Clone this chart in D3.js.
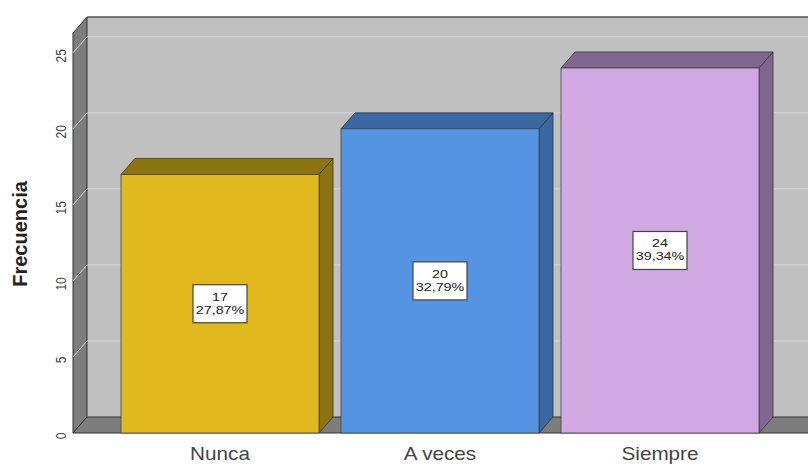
<!DOCTYPE html>
<html>
<head>
<meta charset="utf-8">
<script src="https://cdn.jsdelivr.net/npm/d3@7"></script>
<style>
  body { margin: 0; background: #fff; }
  svg { display: block; font-family: "Liberation Sans", Arial, sans-serif; }
</style>
</head>
<body>
<svg id="chart" width="808" height="464"></svg>
<script>
// chart data
const categories = ["Nunca", "A veces", "Siempre"];
const counts = [17, 20, 24];
const percents = ["27,87%", "32,79%", "39,34%"];
const yTicks = [0, 5, 10, 15, 20, 25];

const frontColors = ["#E1B91E", "#5594E2", "#D1A9E3"];
const sideColors = ["#8C7511", "#3B67A2", "#806790"];

const svg = d3.select("#chart");

// 3d depth offset
const dx = 14, dy = -16;

let x = d3.scaleBand().domain(categories).range([110, 770]).paddingInner(0.1).paddingOuter(0.05);
let y = d3.scaleLinear().domain([0, 26.3]).range([433, 33]);

const left = 73, right = 830;
const y0 = y(0), yTop = y(26.3);

// back wall
svg.append("rect")
    .attr("x", left + dx).attr("y", yTop + dy)
    .attr("width", right - left).attr("height", y0 - yTop)
    .attr("fill", "#c0c0c0");

// left wall
svg.append("path")
    .attr("d", `M${left},${y0} L${left},${yTop} L${left + dx},${yTop + dy} L${left + dx},${y0 + dy} Z`)
    .attr("fill", "#7d7d7d").attr("stroke", "#333").attr("stroke-width", 1);

// floor
svg.append("path")
    .attr("d", `M${left},${y0} L${left + dx},${y0 + dy} L${right},${y0 + dy} L${right},${y0} Z`)
    .attr("fill", "#7d7d7d").attr("stroke", "#333").attr("stroke-width", 1);

// top edge of back wall
svg.append("line")
    .attr("x1", left + dx).attr("x2", right)
    .attr("y1", yTop + dy).attr("y2", yTop + dy)
    .attr("stroke", "#555").attr("stroke-width", 1.5);

// grid lines on walls
yTicks.filter(d => d > 0).forEach(function(t) {
    svg.append("path")
        .attr("d", `M${left},${y(t)} L${left + dx},${y(t) + dy} L${right},${y(t) + dy}`)
        .attr("fill", "none").attr("stroke", "#d6d6d6").attr("stroke-width", 1);
});

// y tick labels (rotated like the original)
svg.append("g").selectAll("text")
    .data(yTicks).enter().append("text")
    .attr("transform", d => `translate(61,${y(d) + 3}) scale(1.2,1) rotate(-90)`)
    .attr("text-anchor", "middle").attr("dominant-baseline", "central")
    .attr("font-size", 12).attr("fill", "#444")
    .text(d => d);

// y axis title
svg.append("text")
    .attr("transform", "translate(20,234) rotate(-90)")
    .attr("text-anchor", "middle").attr("dominant-baseline", "central")
    .attr("font-size", 20).attr("font-weight", "bold").attr("fill", "#222")
    .text("Frecuencia");

// bars
let bars = svg.append("g").selectAll("g")
    .data(categories).enter().append("g");

bars.append("path") // side
    .attr("d", (d, i) => {
        let x1 = x(d) + x.bandwidth();
        return `M${x1},${y0} L${x1},${y(counts[i])} L${x1 + dx},${y(counts[i]) + dy} L${x1 + dx},${y0 + dy} Z`;
    })
    .attr("fill", (d, i) => sideColors[i]).attr("stroke", "#333").attr("stroke-width", 0.8);

bars.append("path") // top
    .attr("d", (d, i) => {
        let x0 = x(d), x1 = x(d) + x.bandwidth(), yt = y(counts[i]);
        return `M${x0},${yt} L${x0 + dx},${yt + dy} L${x1 + dx},${yt + dy} L${x1},${yt} Z`;
    })
    .attr("fill", (d, i) => sideColors[i]).attr("stroke", "#333").attr("stroke-width", 0.8);

bars.append("rect") // front
    .attr("x", d => x(d)).attr("y", (d, i) => y(counts[i]))
    .attr("width", x.bandwidth()).attr("height", (d, i) => y0 - y(counts[i]))
    .attr("fill", (d, i) => frontColors[i]).attr("stroke", "#444").attr("stroke-width", 0.8);

// value label boxes
bars.append("rect")
    .attr("x", d => x(d) + x.bandwidth() / 2 - 27)
    .attr("y", (d, i) => (y(counts[i]) + y0) / 2 - 19)
    .attr("width", 54).attr("height", 38)
    .attr("fill", "#fff").attr("stroke", "#444").attr("stroke-width", 1.2);

bars.append("text")
    .attr("transform", (d, i) => `translate(${x(d) + x.bandwidth() / 2},${(y(counts[i]) + y0) / 2 - 3}) scale(1.3,1)`)
    .attr("text-anchor", "middle").attr("font-size", 11).attr("fill", "#222")
    .text((d, i) => counts[i]);

bars.append("text")
    .attr("transform", (d, i) => `translate(${x(d) + x.bandwidth() / 2},${(y(counts[i]) + y0) / 2 + 10}) scale(1.3,1)`)
    .attr("text-anchor", "middle").attr("font-size", 11).attr("fill", "#222")
    .text((d, i) => percents[i]);

// category labels
svg.append("g").selectAll("text")
    .data(categories).enter().append("text")
    .attr("transform", d => `translate(${x(d) + x.bandwidth() / 2},460) scale(1.15,1)`)
    .attr("text-anchor", "middle")
    .attr("font-size", 18).attr("fill", "#444")
    .text(d => d);
</script>
</body>
</html>
